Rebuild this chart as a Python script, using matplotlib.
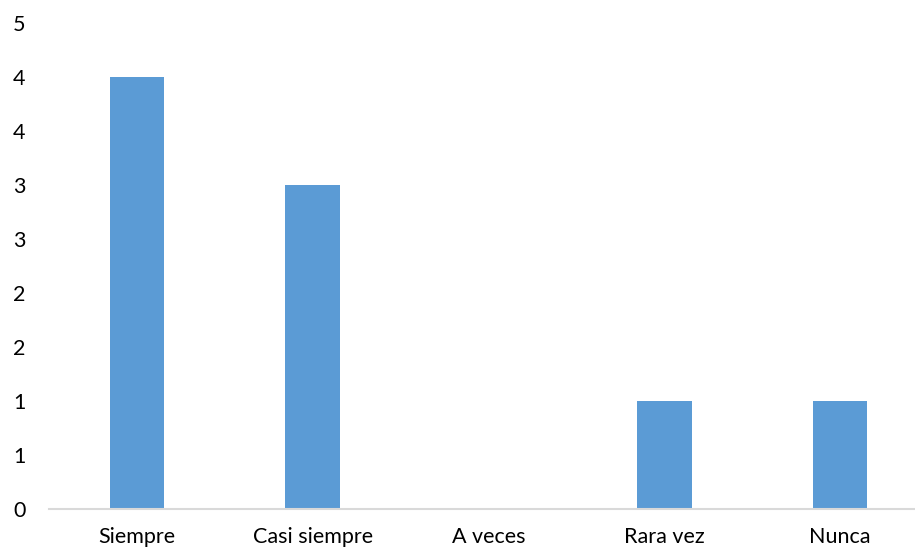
import numpy as np
import matplotlib
matplotlib.use("Agg")
import matplotlib.pyplot as plt
from matplotlib.ticker import FuncFormatter

categories = ["Siempre", "Casi siempre", "A veces", "Rara vez", "Nunca"]
values = [4, 3, 0, 1, 1]
y_ticks = [0, 0.5, 1, 1.5, 2, 2.5, 3, 3.5, 4, 4.5]

BAR_COLOR = "#5B9BD5"

plt.rcParams["font.family"] = ["Lato", "DejaVu Sans"]


def excel_round(v, _pos):
    # Excel shows the axis with no decimals, rounding halves up
    return str(int(np.floor(v + 0.5)))


fig = plt.figure(figsize=(9.15, 5.51), dpi=100)
ax = fig.add_axes([49 / 915, 42 / 551, 879 / 915, 486 / 551])

x = np.arange(len(categories))
ax.bar(x, values, width=0.31, color=BAR_COLOR, zorder=2)

ax.set_xlim(-0.5, len(categories) - 0.5)
ax.set_ylim(0, 4.5)
ax.set_xticks(x)
ax.set_xticklabels(categories)
ax.set_yticks(y_ticks)
ax.yaxis.set_major_formatter(FuncFormatter(excel_round))

for side in ["top", "right", "left"]:
    ax.spines[side].set_visible(False)
ax.spines["bottom"].set_color("#D9D9D9")
ax.spines["bottom"].set_linewidth(1.5)

ax.tick_params(axis="both", length=0, labelsize=15.5, colors="black")
ax.tick_params(axis="y", pad=17)
ax.tick_params(axis="x", pad=13)

fig.savefig("out.png", dpi=100)
